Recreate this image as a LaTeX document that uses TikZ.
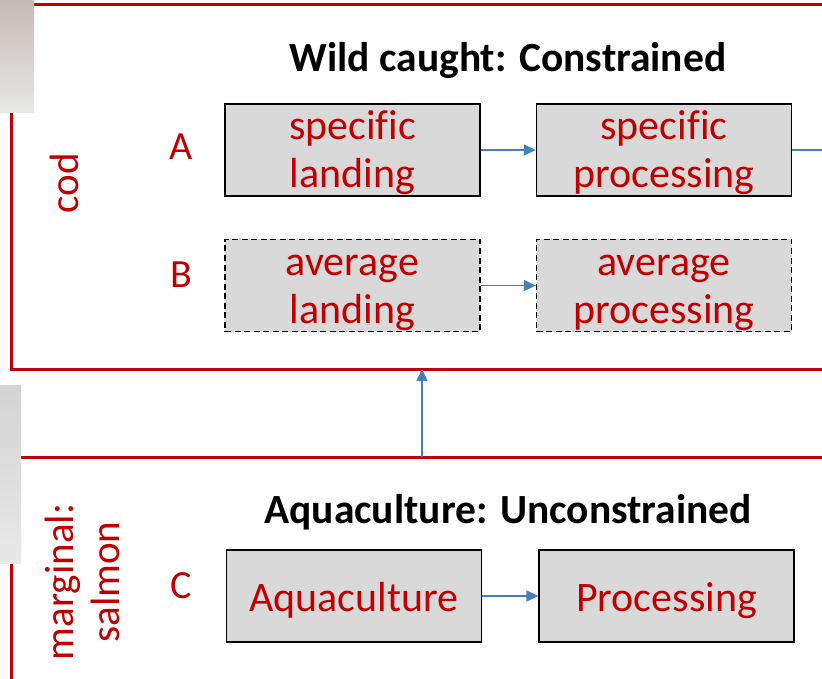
\documentclass[tikz,border=0pt]{standalone}
\usepackage{fontspec}
\setmainfont{Carlito}[Ligatures=NoCommon]
\usetikzlibrary{arrows.meta}
\definecolor{dred}{RGB}{192,0,0}
\definecolor{boxgray}{RGB}{217,217,217}
\definecolor{arrblue}{RGB}{74,126,187}
\definecolor{photoA}{RGB}{196,186,182}
\definecolor{photoB}{RGB}{232,232,232}
\newcommand{\twolines}[2]{\rule{0pt}{28pt}\smash{#1}\\\smash{#2}}
\newcommand{\oneline}[1]{\rule{0pt}{30pt}\smash{#1}}
\tikzset{
  frame/.style={draw=dred, line width=3pt},
  procbox/.style={draw=black, line width=1.3pt, fill=boxgray, minimum width=255pt, minimum height=92pt, inner sep=0pt, text=dred, align=center, font=\fontsize{42}{48}\selectfont},
  avgbox/.style={procbox, dash pattern=on 6pt off 3.5pt},
  flow/.style={draw=arrblue, line width=1.5pt, -{Triangle[length=12pt,width=11pt]}},
  rowlabel/.style={text=dred, font=\fontsize{40}{46}\selectfont, inner sep=0pt},
  sidelabel/.style={text=dred, font=\fontsize{41}{46}\selectfont, inner sep=0pt, rotate=90, align=center},
  title/.style={font=\bfseries\fontsize{41.5}{48}\selectfont, inner sep=0pt}
}
\begin{document}
\begin{tikzpicture}[x=1pt,y=-1pt]
\clip (0,0) rectangle (822,679);
\fill[white] (0,0) rectangle (822,679);
% frames
\draw[frame] (11,5) rectangle (900,369);
\draw[frame] (11,457) rectangle (900,720);
% photo fragments
\shade[top color=photoA, bottom color=photoB] (0,0) rectangle (34,113);
\shade[top color=photoB!80!gray, bottom color=photoB] (0,385) rectangle (21,563);
% titles
\node[title] (t1) at (508,60) {Wild caught: Constrained};
\node[title] (t2) at (508,512) {Aquaculture: Unconstrained};
% side labels
\node[sidelabel] (cod) at (64,183) {cod};
\node[sidelabel] (salm) at (82,582) {marginal:\\salmon};
\node[rowlabel] (la) at (181,147) {A};
\node[rowlabel] (lb) at (181,274.5) {B};
\node[rowlabel] (lc) at (181,586) {C};
% boxes
\node[procbox] (a1) at (352.5,150) {\twolines{specific}{landing}};
\node[procbox] (a2) at (664,150) {\twolines{specific}{processing}};
\node[avgbox] (b1) at (352.5,285.5) {\twolines{average}{landing}};
\node[avgbox] (b2) at (664,285.5) {\twolines{average}{processing}};
\node[procbox] (c1) at (354,596) {\oneline{Aquaculture}};
\node[procbox] (c2) at (666.5,596) {\oneline{Processing}};
% connectors
\coordinate (aout) at (860,150);
\coordinate (ubot) at (422,457);
\coordinate (utop) at (422,369);
\draw[flow] (a1) -- (a2);
\draw[draw=arrblue, line width=1.5pt] (a2) -- (aout);
\draw[flow] (b1) -- (b2);
\draw[flow] (c1) -- (c2);
\draw[flow] (ubot) -- (utop);
\end{tikzpicture}
\end{document}
